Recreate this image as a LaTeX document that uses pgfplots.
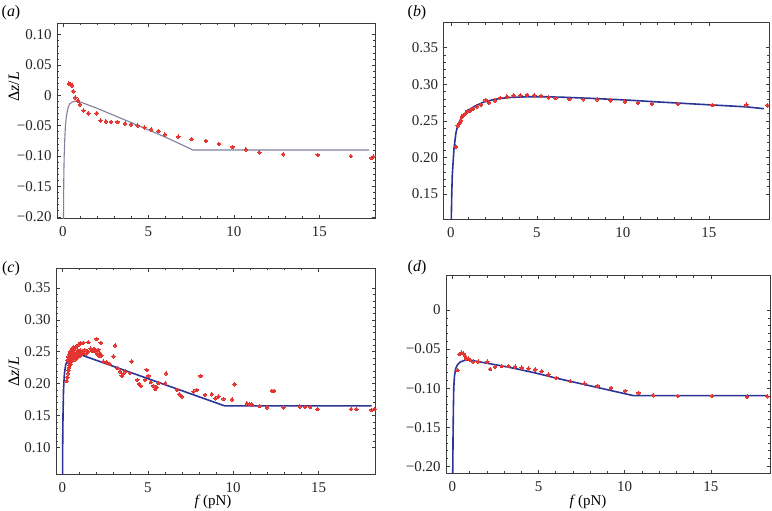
\documentclass[border=0pt]{standalone}
\usepackage{fontspec}
\setmainfont{Liberation Serif}
\usepackage{pgfplots}
\pgfplotsset{compat=1.18}

\definecolor{dotred}{RGB}{228,52,48}
\definecolor{fitblue}{RGB}{44,52,150}
\definecolor{fitgray}{RGB}{128,128,158}
\definecolor{framec}{RGB}{60,60,60}

\pgfplotsset{
  mma/.style={
    scale only axis, anchor=north west,
    axis line style={framec, line width=0.7pt},
    tick align=inside,
    tick style={framec, line width=0.5pt},
    major tick length=3.5bp, minor tick length=2bp,
    xtick={0,5,10,15}, xticklabels={0,5,10,15},
    minor x tick num=4, minor y tick num=4,
    tick label style={font=\fontsize{15}{17}\selectfont, text=black!85},
    xticklabel style={yshift=-5bp},
    yticklabel style={xshift=-2bp},
  },
  dots/.style={dotred, only marks, mark=*, mark size=1.8bp,
    mark options={draw=dotred, fill=dotred, line width=0pt}},
  fit/.style={fitblue, line width=1.6bp, no marks},
}

\begin{document}
\begin{tikzpicture}
\useasboundingbox (0,0) rectangle (772bp,-511bp);

% (a)
\begin{axis}[mma, at={(57bp,-23bp)}, width=318bp, height=195bp,
  xmin=-0.35, xmax=18.25, ymin=-0.202, ymax=0.119,
  ytick={-0.20,-0.15,-0.10,-0.05,0,0.05,0.10},
  yticklabels={−0.20,−0.15,−0.10,−0.05,0,0.05,0.10}]
  \addplot[fitgray, line width=1.1bp, no marks] coordinates {
    (0.03,-0.205) (0.04,-0.16) (0.05,-0.13) (0.07,-0.10) (0.10,-0.075)
    (0.14,-0.052) (0.2,-0.034) (0.3,-0.020) (0.4,-0.014) (0.55,-0.0110)
    (0.7,-0.0098) (0.85,-0.0099) (1.05,-0.0115) (1.3,-0.0140) (2,-0.0215)
    (4,-0.045) (6,-0.069) (7.6,-0.090) (17.9,-0.090)};
  \addplot[dots] coordinates {
    (0.35,0.019) (0.45,0.018) (0.53,0.016) (0.60,0.0067) (0.72,-0.0037)
    (0.88,-0.0086) (0.99,-0.0152) (1.19,-0.025) (1.48,-0.0295) (1.97,-0.0295)
    (2.2,-0.0415) (2.51,-0.043) (2.81,-0.0438) (3.18,-0.0438) (3.63,-0.0465)
    (3.98,-0.048) (4.37,-0.050) (4.76,-0.053) (5.15,-0.056) (5.58,-0.059)
    (5.96,-0.0646) (6.74,-0.068) (7.53,-0.072) (8.36,-0.075) (9.12,-0.080)
    (9.92,-0.085) (10.7,-0.089) (11.48,-0.094) (12.88,-0.097) (14.9,-0.098)
    (16.84,-0.100) (18.05,-0.103) (18.15,-0.101)};
\end{axis}

% (b)
\begin{axis}[mma, at={(443.5bp,-22.7bp)}, width=325.5bp, height=196.6bp,
  xmin=-0.43, xmax=18.5, ymin=0.1154, ymax=0.384,
  ytick={0.15,0.20,0.25,0.30,0.35},
  yticklabels={0.15,0.20,0.25,0.30,0.35}]
  \addplot[fit] coordinates {
    (0.02,0.11) (0.05,0.15) (0.08,0.175) (0.12,0.19) (0.18,0.212) (0.29,0.233)
    (0.4,0.244) (0.54,0.251) (0.75,0.258) (1.03,0.2648) (1.4,0.270) (1.9,0.2755)
    (2.5,0.279) (2.87,0.2805) (3.5,0.282) (4.5,0.2828) (5.5,0.2828) (6.5,0.2822)
    (8,0.2808) (10.1,0.2785) (12,0.2758) (13.2,0.2742) (15.2,0.2716)
    (17.2,0.2690) (18.2,0.2665)};
  \addplot[dots] coordinates {
    (0.29,0.2147) (0.39,0.2434) (0.50,0.2466) (0.58,0.250) (0.64,0.2557)
    (0.74,0.258) (0.85,0.260) (0.97,0.2634) (1.12,0.2639) (1.28,0.2662)
    (1.51,0.2694) (1.75,0.2716) (2.02,0.2785) (2.21,0.2748) (2.56,0.2776)
    (2.87,0.2812) (3.26,0.2830) (3.65,0.2849) (4.04,0.2849) (4.43,0.2853)
    (4.85,0.2849) (5.24,0.2839) (5.69,0.2821) (6.08,0.2812) (6.89,0.2798)
    (7.69,0.2794) (8.5,0.2794) (9.28,0.2780) (10.12,0.2762) (10.87,0.2744)
    (11.69,0.2730) (13.2,0.2730) (15.2,0.2716) (17.18,0.2721) (18.4,0.2712)};
\end{axis}

% (c)
\begin{axis}[mma, at={(56bp,-268.3bp)}, width=319bp, height=205.7bp,
  xmin=-0.37, xmax=18.3, ymin=0.058, ymax=0.381,
  ytick={0.10,0.15,0.20,0.25,0.30,0.35},
  yticklabels={0.10,0.15,0.20,0.25,0.30,0.35}]
  \addplot[fit] coordinates {
    (0.015,0.05) (0.02,0.10) (0.04,0.15) (0.07,0.19) (0.12,0.215) (0.2,0.23)
    (0.35,0.238) (0.6,0.242) (1.0,0.246) (9.5,0.165) (18.1,0.165)};
  \addplot[dots] coordinates {
    (0.25,0.204) (0.29,0.210) (0.33,0.216) (0.36,0.221) (0.39,0.225) (0.41,0.229)
    (0.45,0.233) (0.48,0.238) (0.51,0.241) (0.55,0.244) (0.58,0.247) (0.61,0.249)
    (0.64,0.252) (0.70,0.255) (0.77,0.257) (0.84,0.259) (0.95,0.261) (1.05,0.263)
    (1.23,0.264) (1.52,0.265) (2.01,0.270) (2.25,0.264)
    (0.35,0.236) (0.40,0.240) (0.45,0.243) (0.50,0.246) (0.55,0.249) (0.60,0.251)
    (0.68,0.247) (0.72,0.243) (0.80,0.245) (0.85,0.249) (0.90,0.252) (0.98,0.248)
    (1.05,0.252) (1.12,0.246) (1.20,0.250) (1.30,0.253) (1.40,0.247) (1.50,0.250)
    (1.65,0.255) (1.75,0.251) (1.88,0.254) (1.95,0.250) (2.05,0.246) (2.1,0.253)
    (2.18,0.243) (2.3,0.244) (0.38,0.233) (0.43,0.237) (0.47,0.230) (0.52,0.235)
    (0.58,0.238) (0.65,0.240) (0.75,0.238) (0.9,0.241) (1.0,0.243) (0.3,0.237)
    (0.34,0.242) (0.42,0.246) (0.47,0.250) (0.53,0.252) (0.6,0.255) (0.66,0.257)
    (1.82,0.254) (2.11,0.253) (2.2,0.248)
    (2.4,0.2347) (2.6,0.2331) (2.79,0.2305) (2.99,0.2426) (3.09,0.260)
    (3.22,0.2242) (3.38,0.219) (3.48,0.212) (3.57,0.2153) (3.67,0.219)
    (4.06,0.2347) (3.96,0.2164) (4.39,0.2059) (4.49,0.1996) (4.59,0.1964)
    (4.94,0.2216) (4.84,0.2059) (5.04,0.2122) (5.18,0.2022) (5.33,0.1964)
    (5.43,0.1912) (5.53,0.1944) (5.63,0.2006) (6.02,0.2006) (6.07,0.216)
    (6.7,0.190) (6.84,0.1833) (7.0,0.1797) (7.68,0.1875) (7.87,0.190)
    (8.1,0.2120) (8.36,0.1823) (8.75,0.1833) (8.95,0.1770) (9.14,0.1797)
    (9.43,0.176) (9.94,0.175) (10.08,0.199) (10.8,0.169) (10.95,0.168)
    (11.1,0.167) (11.54,0.165) (11.97,0.1624) (12.27,0.1886) (12.4,0.1886)
    (12.95,0.1624) (13.9,0.164) (14.2,0.1634) (14.5,0.163) (14.94,0.160)
    (16.9,0.160) (17.2,0.160) (18.1,0.1587) (18.26,0.160)};
\end{axis}

% (d)
\begin{axis}[mma, at={(446bp,-275.7bp)}, width=324bp, height=197.6bp,
  xmin=-0.37, xmax=18.44, ymin=-0.209, ymax=0.044,
  ytick={-0.20,-0.15,-0.10,-0.05,0},
  yticklabels={−0.20,−0.15,−0.10,−0.05,0}]
  \addplot[fit] coordinates {
    (0.02,-0.215) (0.04,-0.16) (0.06,-0.125) (0.08,-0.10) (0.12,-0.085)
    (0.19,-0.0748) (0.3,-0.0700) (0.45,-0.0665) (0.7,-0.0645) (1.0,-0.064)
    (2,-0.068) (3,-0.072) (4,-0.0765) (5,-0.0815) (6,-0.087) (7,-0.092)
    (8,-0.097) (9,-0.102) (10.5,-0.1095) (18.2,-0.1095)};
  \addplot[dots] coordinates {
    (0.31,-0.0769) (0.41,-0.0564) (0.52,-0.0547) (0.64,-0.0556) (0.74,-0.059)
    (0.79,-0.062) (0.93,-0.062) (1.03,-0.0641) (1.22,-0.0662) (1.51,-0.0662)
    (2.03,-0.0662) (2.19,-0.0756) (2.48,-0.0726) (2.87,-0.0718) (3.26,-0.0718)
    (3.64,-0.0726) (4.03,-0.0739) (4.42,-0.0748) (4.81,-0.0761) (5.19,-0.0782)
    (5.58,-0.0825) (6.03,-0.0868) (6.84,-0.091) (7.66,-0.094) (8.43,-0.097)
    (9.21,-0.0996) (10.04,-0.1034) (10.81,-0.106) (11.65,-0.109) (13.08,-0.1098)
    (15.08,-0.1098) (17.11,-0.111) (18.27,-0.1103)};
\end{axis}

\begin{scope}[every node/.style={font=\fontsize{16}{18}\selectfont, inner sep=0pt}]
  \node at (11bp,-13bp) {(\textit{a})};
  \node at (417bp,-13bp) {(\textit{b})};
  \node at (11bp,-269bp) {(\textit{c})};
  \node at (417bp,-268bp) {(\textit{d})};
  \node[rotate=90] at (14bp,-87bp) {Δ\textit{z}/\textit{L}};
  \node[rotate=90] at (14bp,-372bp) {Δ\textit{z}/\textit{L}};
\end{scope}
\begin{scope}[every node/.style={font=\fontsize{15}{17}\selectfont, inner sep=0pt}]
  \node at (213bp,-502bp) {\textit{f}\,(pN)};
  \node at (588bp,-502bp) {\textit{f}\,(pN)};
\end{scope}
\end{tikzpicture}
\end{document}
